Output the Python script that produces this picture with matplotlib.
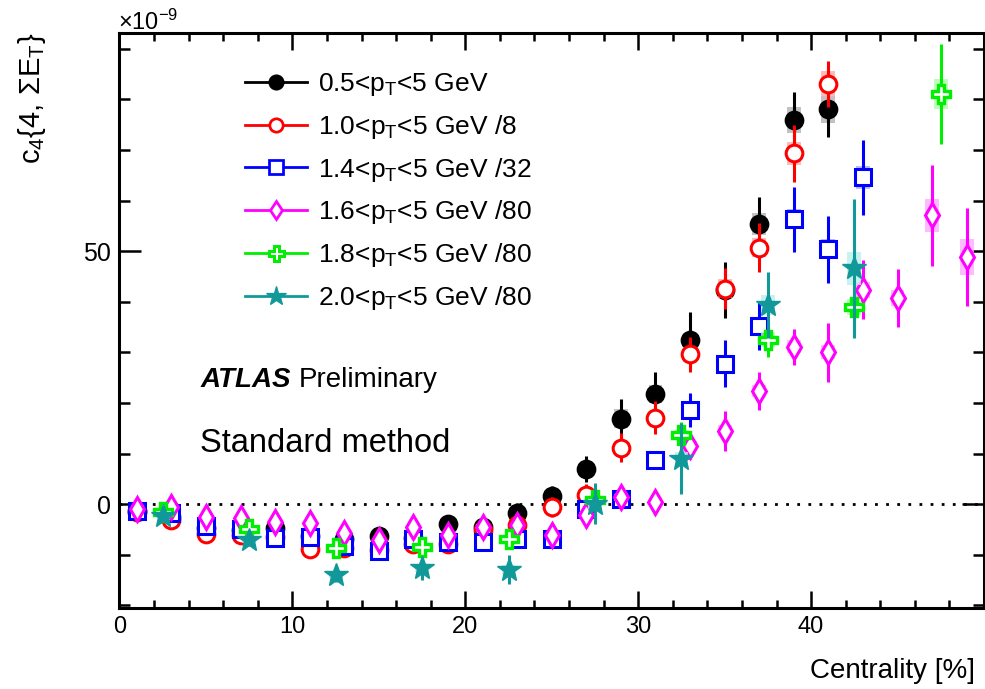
import matplotlib
matplotlib.use("Agg")
import matplotlib.pyplot as plt
from matplotlib.lines import Line2D
from matplotlib.ticker import MultipleLocator, FixedLocator

plt.rcParams['font.family'] = ['Liberation Sans', 'DejaVu Sans']
plt.rcParams['mathtext.fontset'] = 'custom'
plt.rcParams['mathtext.rm'] = 'Liberation Sans'
plt.rcParams['mathtext.it'] = 'Liberation Sans:italic'
plt.rcParams['mathtext.bf'] = 'Liberation Sans:bold'

# centrality bins (2% wide for the low-pT cuts, 5% wide for the high ones)
cent_2 = [1, 3, 5, 7, 9, 11, 13, 15, 17, 19, 21, 23, 25, 27, 29, 31, 33, 35, 37, 39, 41, 43, 45, 47, 49]
cent_5 = [2.5, 7.5, 12.5, 17.5, 22.5, 27.5, 32.5, 37.5, 42.5, 47.5]

# c4{4, sum ET} in units of 1e-9 (already divided by the scale factor)
c4_05 = [-1.3, -2.5, -4.7, -5.0, -4.7, -6.2, -6.9, -6.2, -6.6, -3.9, -4.5, -1.7, 1.6, 6.9,
         16.9, 21.7, 32.4, 42.3, 55.3, 75.9, 78.0]
err_05 = [0.5, 0.6, 0.7, 0.8, 0.8, 0.9, 1.0, 1.0, 1.1, 1.2, 1.4, 2.0, 2.0, 2.6,
          3.8, 4.4, 5.6, 5.5, 5.4, 5.5, 5.5]
sys_05 = [0.3, 0.3, 0.3, 0.4, 0.4, 0.4, 0.5, 0.5, 0.5, 0.5, 0.5, 0.6, 0.7, 0.9,
          1.9, 1.8, 1.5, 1.6, 2.2, 2.6, 2.7]

c4_10 = [-1.5, -3.2, -5.9, -6.0, -6.5, -8.8, -8.7, -9.1, -7.8, -7.8, -5.0, -4.2, -0.5, 1.9,
         11.2, 17.1, 29.6, 42.6, 50.7, 69.3, 83.0]
err_10 = [0.6, 0.7, 0.8, 0.9, 1.0, 1.1, 1.2, 1.2, 1.3, 1.4, 1.5, 1.8, 2.0, 2.0,
          2.8, 3.3, 3.5, 4.0, 4.8, 5.6, 4.6]
sys_10 = [0.3, 0.3, 0.3, 0.4, 0.4, 0.4, 0.5, 0.5, 0.5, 0.5, 0.5, 0.6, 0.7, 0.9,
          1.2, 1.3, 1.5, 1.8, 1.9, 2.3, 2.5]

c4_14 = [-1.3, -1.7, -4.3, -4.8, -6.7, -6.5, -8.3, -9.3, -6.8, -7.4, -7.4, -6.9, -6.9, -0.9,
         1.0, 8.8, 18.6, 27.8, 35.2, 56.3, 50.4, 64.6]
err_14 = [0.5, 0.6, 0.7, 0.8, 0.9, 0.9, 1.0, 1.1, 1.1, 1.2, 1.3, 1.4, 1.6, 1.8,
          1.6, 1.8, 3.3, 4.7, 4.8, 6.4, 6.6, 7.4]
sys_14 = [0.3, 0.3, 0.3, 0.4, 0.4, 0.4, 0.5, 0.5, 0.5, 0.5, 0.5, 0.6, 0.7, 0.8,
          0.9, 1.0, 1.2, 1.4, 1.5, 2.0, 2.0, 2.3]

c4_16 = [-0.9, -0.5, -2.6, -2.8, -3.5, -3.8, -5.7, -7.1, -4.6, -6.1, -4.5, -4.2, -6.1, -2.2,
         1.4, 0.5, 11.5, 14.5, 22.4, 31.1, 30.0, 42.4, 40.8, 57.1, 48.8]
err_16 = [0.5, 0.5, 0.6, 0.6, 0.7, 0.8, 0.8, 0.9, 1.0, 1.0, 1.1, 1.2, 1.3, 1.5,
          1.6, 1.6, 2.6, 4.0, 3.8, 3.6, 5.8, 5.9, 5.7, 10.0, 9.7]
sys_16 = [0.3, 0.3, 0.3, 0.3, 0.3, 0.4, 0.4, 0.4, 0.4, 0.4, 0.5, 0.5, 0.5, 0.6,
          0.7, 0.8, 1.0, 1.1, 1.2, 1.3, 1.4, 1.6, 1.6, 3.3, 3.6]

c4_18 = [-1.5, -4.8, -8.6, -8.4, -6.9, 0.8, 13.6, 32.5, 38.9, 81.0]
err_18 = [0.6, 0.8, 1.0, 1.2, 1.4, 1.8, 2.6, 3.5, 4.5, 9.9]
sys_18 = [0.3, 0.4, 0.5, 0.5, 0.6, 0.8, 1.0, 1.5, 1.6, 3.0]

c4_20 = [-2.4, -7.1, -13.9, -12.7, -12.9, 0.1, 9.0, 39.3, 46.6]
err_20 = [0.8, 1.2, 1.5, 2.3, 2.8, 4.0, 7.0, 6.5, 13.8]
sys_20 = [0.4, 0.5, 0.6, 0.7, 0.8, 1.0, 1.3, 2.0, 3.3]

labels = ['0.5<p$_{\\mathrm{T}}$<5 GeV',
          '1.0<p$_{\\mathrm{T}}$<5 GeV /8',
          '1.4<p$_{\\mathrm{T}}$<5 GeV /32',
          '1.6<p$_{\\mathrm{T}}$<5 GeV /80',
          '1.8<p$_{\\mathrm{T}}$<5 GeV /80',
          '2.0<p$_{\\mathrm{T}}$<5 GeV /80']

# x, y, stat, syst, colour, box colour, marker, face, size, edge width
series = [
    (cent_2[:len(c4_05)], c4_05, err_05, sys_05, 'black', '#b3b3b3', 'o', 'black', 12, 2.2),
    (cent_2[:len(c4_10)], c4_10, err_10, sys_10, '#ff0000', '#ffaaaa', 'o', 'white', 12, 2.2),
    (cent_2[:len(c4_14)], c4_14, err_14, sys_14, '#0000ff', '#aaaaff', 's', 'white', 12, 2.2),
    (cent_2[:len(c4_16)], c4_16, err_16, sys_16, '#ff00ff', '#ffaaff', 'd', 'white', 12, 2.2),
    (cent_5[:len(c4_18)], c4_18, err_18, sys_18, '#00ee00', '#aaffaa', 'P', 'white', 13.5, 2.4),
    (cent_5[:len(c4_20)], c4_20, err_20, sys_20, '#119999', '#bbeeee', '*', '#119999', 18, 1.0),
]

fig = plt.figure(figsize=(9.85, 6.89), dpi=100)
ax = fig.add_axes([0.1213, 0.1176, 0.8777, 0.8345])

ax.axhline(0, color='black', lw=2, ls=(0, (1, 3)), zorder=0)

handles = []
for i, (x, y, e, s, col, light, mk, face, ms, mew) in enumerate(series):
    z = 2 + i * 0.1
    ax.bar(x, [2 * v for v in s], bottom=[a - b for a, b in zip(y, s)], width=0.8,
           color=light, alpha=0.8, lw=0, zorder=z)
    ax.errorbar(x, y, yerr=e, fmt='none', ecolor=col, elinewidth=2.2, capsize=0, zorder=z + 0.01)
    ax.plot(x, y, ls='none', marker=mk, ms=ms, mfc=face, mec=col, mew=mew, zorder=z + 0.02)
    handles.append(Line2D([], [], color=col, lw=2, marker=mk, ms=ms * 0.8, mfc=face, mec=col,
                          mew=mew * 0.9))

ax.set_xlim(0, 50)
ax.set_ylim(-20.5, 93.1)
ax.xaxis.set_major_locator(FixedLocator([0, 10, 20, 30, 40]))
ax.xaxis.set_minor_locator(MultipleLocator(2))
ax.yaxis.set_major_locator(FixedLocator([0, 50]))
ax.yaxis.set_minor_locator(MultipleLocator(10))
ax.tick_params(which='both', direction='in', top=True, right=True, width=1.8)
ax.tick_params(axis='x', which='major', length=12, pad=6, labelsize=17)
ax.tick_params(axis='x', which='minor', length=6)
ax.tick_params(axis='y', which='major', length=16, pad=6, labelsize=18)
ax.tick_params(axis='y', which='minor', length=8)
for sp in ax.spines.values():
    sp.set_linewidth(2.2)

ax.legend(handles, labels, loc='upper left', bbox_to_anchor=(245 / 985, 1 - 71 / 689),
          bbox_transform=fig.transFigure, frameon=False, fontsize=19, handlelength=2.35,
          handletextpad=0.42, labelspacing=0.56, borderpad=0, borderaxespad=0)

atl = ax.text(4.67, 23.2, 'ATLAS', fontsize=20, fontweight='bold', fontstyle='italic', va='baseline')
ax.annotate('Preliminary', xy=(1, 0), xycoords=atl, xytext=(6, 0),
            textcoords='offset points', fontsize=20, va='bottom')
ax.text(4.67, 10.3, 'Standard method', fontsize=23.5, va='baseline')

fig.text(0.1195, 1 - 30 / 689, '$\\times$10$^{-9}$', fontsize=17, va='baseline')
fig.text(0.032, 0.952, 'c$_{4}${4, $\\Sigma$E$_{\\mathrm{T}}$}', rotation=90,
         fontsize=21, ha='center', va='top')
fig.text(0.99, 1 - 678 / 689, 'Centrality [%]', fontsize=20, ha='right', va='baseline')

fig.savefig('out.png', dpi=100)
